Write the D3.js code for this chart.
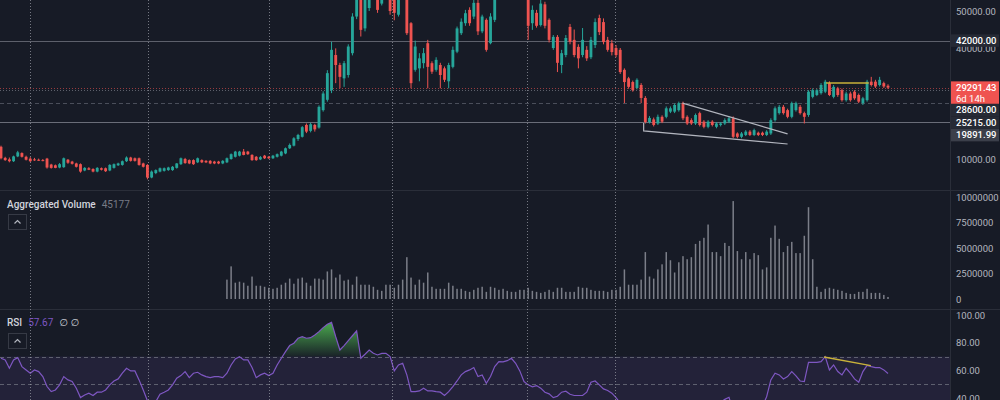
<!DOCTYPE html>
<html><head><meta charset="utf-8">
<script src="https://cdn.jsdelivr.net/npm/d3@7"></script>
<style>
html,body{margin:0;padding:0;background:#171b26;overflow:hidden}
svg{display:block}
text{font-family:Roboto,"Noto Sans","DejaVu Sans",sans-serif}
</style>
</head><body>
<svg id="c" width="1000" height="400"></svg>
<script>
// ---- DATA (prices in thousands of USD, volume in millions) ----
const open  = [13.3,10.3,9.9,9.4,10.7,11.6,10.6,10.1,9.9,9.8,9.7,10.1,8.5,8.3,7.7,7.8,9.8,9.3,8.8,8.6,6.9,7.5,7.3,6.6,7.5,7.5,6.9,7.6,8.3,8.4,9.4,10.4,10.2,10.2,8.8,8.4,5.0,6.2,6.6,6.8,7.0,7.0,7.6,8.6,10.0,9.7,9.7,9.1,9.7,9.5,9.5,9.3,9.3,8.8,9.1,10.0,10.6,10.9,12.0,12.0,11.1,10.6,9.9,10.9,10.6,10.2,10.6,10.9,11.5,12.9,13.6,15.4,16.0,19.2,17.6,19.2,18.5,23.2,26.0,28.6,38.1,35.4,31.8,32.7,38.6,48.5,56.0,45.3,50.8,57.0,60.0,52.0,60.0,58.0,55.0,49.0,54.0,62.0,46.7,34.1,34.5,35.9,41.3,35.9,34.1,35.4,34.5,31.0,34.9,39.0,44.0,46.7,50.3,48.5,52.2,44.5,47.6,41.3,47.6,55.0,58.0,62.0,60.0,65.0,63.0,59.0,57.0,46.7,49.5,46.2,51.8,47.6,40.0,43.0,35.4,38.1,45.7,42.2,40.3,38.1,39.5,37.5,40.8,48.1,47.0,42.2,41.3,40.0,39.5,34.1,31.8,30.8,29.2,30.0,26.5,20.0,20.7,19.6,21.4,21.4,22.8,22.8,23.2,25.1,21.4,20.5,19.6,22.4,20.1,18.7,20.1,18.7,19.2,19.6,20.1,21.0,16.9,16.0,16.5,17.4,16.5,17.1,17.1,16.5,16.9,20.5,22.4,24.1,23.2,21.4,23.2,24.1,22.4,21.9,26.8,27.3,27.8,28.2,30.5,26.8,29.1,28.6,25.9,27.7,28.2,27.3,25.1,25.9,30.9,30.9,30.0,30.5,29.8];
const high  = [13.6,10.6,10.4,10.9,12.2,11.8,10.9,10.5,10.3,10.1,10.0,10.3,8.7,8.5,8.9,10.4,10.0,9.5,9.0,8.8,7.8,7.8,7.5,7.8,7.7,7.7,8.6,8.8,9.0,9.6,10.7,10.6,10.4,10.4,9.0,8.6,6.9,7.2,7.7,7.7,7.9,8.1,8.9,10.4,10.3,9.9,9.9,10.4,9.9,9.7,9.7,9.5,9.5,9.7,10.4,11.5,12.2,12.2,12.7,12.2,11.3,10.8,10.8,11.1,10.8,11.1,11.5,12.2,13.1,14.2,15.9,16.8,18.9,19.6,19.8,19.5,24.5,28.3,34.0,41.7,39.9,36.0,36.5,41.0,49.4,57.0,58.0,57.0,60.0,62.0,62.0,63.0,62.0,59.0,57.0,58.0,66.0,64.0,47.0,42.0,38.6,40.0,42.2,36.4,37.5,36.0,35.0,36.0,40.4,45.8,48.0,50.3,51.0,53.5,53.0,49.0,48.0,49.4,57.0,61.0,65.0,66.0,68.0,69.0,66.0,64.0,58.0,51.5,50.3,53.0,52.5,48.0,43.5,43.5,39.5,43.5,46.5,45.0,41.0,45.4,40.5,43.0,48.0,49.0,48.0,43.0,42.2,40.8,40.0,34.5,32.2,31.2,31.8,30.5,27.0,21.6,21.2,22.0,21.8,24.2,24.2,25.0,25.5,25.5,21.8,21.0,22.3,22.8,20.5,20.5,20.5,20.0,20.0,21.0,21.6,21.5,17.2,17.3,17.8,17.8,18.2,17.4,17.4,17.8,21.0,24.2,24.6,24.6,23.6,25.5,25.5,24.6,22.8,28.6,29.1,29.0,30.5,31.4,31.0,30.0,29.5,29.0,28.2,28.2,28.6,27.7,26.8,31.4,32.2,31.4,32.2,30.9,30.2];
const low   = [9.9,9.5,9.1,9.2,10.5,10.4,9.6,9.2,9.5,9.5,9.4,7.4,7.4,7.5,7.5,7.6,8.7,8.5,7.7,6.3,6.7,7.0,6.4,6.4,6.9,6.5,6.7,7.4,8.1,8.2,9.2,9.3,9.3,8.2,7.7,4.5,4.8,5.9,6.4,6.6,6.8,6.8,7.4,8.4,8.7,8.6,8.4,8.9,8.9,8.9,8.6,8.6,8.6,8.6,8.9,9.8,10.4,10.7,11.0,11.1,9.5,9.5,9.7,10.0,10.0,10.0,10.4,10.7,11.3,12.7,13.4,14.9,15.8,17.0,17.2,17.4,18.2,22.8,25.5,27.8,30.5,29.1,29.5,32.0,38.0,47.8,43.1,44.5,50.0,55.0,49.5,51.5,53.5,49.0,47.5,48.5,53.5,43.5,29.1,33.6,31.0,34.5,29.1,33.0,33.6,29.1,30.8,29.1,34.5,38.6,43.5,46.0,46.0,47.8,43.5,44.0,39.0,41.0,47.0,54.0,56.0,57.0,58.0,61.0,57.0,55.0,42.2,44.9,45.5,45.8,45.3,41.5,39.5,33.5,33.2,37.5,41.0,37.5,34.5,37.5,36.5,37.0,40.0,43.5,41.0,39.0,38.0,37.5,33.0,25.1,29.0,28.2,28.8,25.1,19.6,19.6,18.8,19.2,19.7,21.0,22.4,22.4,22.8,20.5,19.2,19.2,19.2,18.8,18.3,18.3,18.8,18.3,18.8,19.2,19.7,15.6,15.6,15.6,16.2,16.2,16.2,16.2,16.2,16.2,16.5,20.1,22.0,22.0,21.0,21.0,22.8,22.0,19.6,21.4,26.4,27.0,27.4,27.8,27.0,26.4,26.8,25.5,25.5,25.5,26.0,25.1,24.6,25.5,29.6,29.2,29.6,29.2,28.9];
const close = [10.2,9.7,9.4,10.7,11.8,10.6,9.8,9.4,9.7,9.6,9.6,7.7,7.6,7.6,8.6,10.2,9.0,8.7,7.9,6.6,7.6,7.1,6.6,7.6,7.1,6.7,8.4,8.6,8.8,9.4,10.4,9.5,9.5,8.4,7.9,5.0,6.6,7.0,7.5,7.5,7.7,7.9,8.8,10.2,8.9,8.8,8.6,10.2,9.1,9.1,8.8,8.8,8.8,9.5,10.2,11.3,12.0,12.0,11.1,11.3,9.7,9.7,10.5,10.2,10.2,10.9,11.3,12.0,12.9,13.8,15.6,16.5,18.6,17.4,19.4,18.0,24.1,27.7,33.2,39.5,35.4,32.2,35.9,40.4,48.5,55.0,44.9,55.0,58.0,60.0,50.3,60.0,54.0,50.0,49.5,55.0,62.0,44.0,30.5,40.4,37.2,38.6,34.9,33.6,36.8,32.7,31.4,35.4,39.5,45.3,47.1,49.4,46.7,52.2,44.5,48.5,39.5,48.5,55.0,58.0,62.0,60.0,65.0,63.0,59.0,61.0,46.0,50.3,46.0,52.0,46.0,42.2,43.0,36.0,38.6,42.7,41.7,38.1,37.2,42.2,37.2,42.2,47.0,44.3,41.6,39.5,38.9,38.1,33.5,30.8,29.5,28.6,31.4,26.5,20.0,21.1,19.2,21.4,20.1,23.7,23.7,24.6,25.1,21.0,19.6,19.6,21.9,19.2,18.7,20.1,19.2,19.6,19.6,20.5,21.0,16.0,16.0,16.9,17.4,16.5,17.8,16.5,16.5,17.4,20.5,23.7,24.1,22.4,21.4,25.1,25.1,22.4,21.4,28.2,28.6,28.6,30.0,30.9,27.3,29.5,27.3,25.9,27.7,25.9,26.4,25.5,26.4,30.9,30.0,29.6,31.4,29.6,29.29];
const volumeStartIndex = 54;
const volume = [1.9,3.2,1.6,1.7,1.6,1.3,2.2,1.3,1.3,1.2,1.1,1.0,1.1,1.4,1.6,2.0,1.5,2.0,2.1,1.6,1.3,2.0,2.0,1.9,2.7,2.9,2.1,2.4,1.8,1.9,1.4,2.2,1.4,1.4,1.4,1.2,0.9,0.8,1.4,1.4,1.1,1.4,1.9,4.1,2.1,1.4,1.9,1.6,2.6,1.2,1.0,1.0,1.0,1.6,1.3,1.0,1.0,0.8,0.7,0.9,1.1,1.2,0.7,1.2,1.1,0.9,
  1.0,0.8,0.7,0.7,0.9,0.9,1.1,0.8,0.7,0.6,0.7,0.9,0.7,1.1,1.1,0.7,0.7,0.7,1.2,1.1,1.1,0.9,0.8,0.8,0.8,0.7,0.9,0.9,1.2,2.9,1.4,1.4,1.4,1.9,4.6,2.2,2.0,2.9,3.4,4.6,3.8,2.6,3.6,4.2,3.9,4.1,5.4,5.7,6.0,7.3,4.6,4.6,4.2,5.5,5.2,9.6,4.7,3.9,4.6,3.9,4.5,4.3,2.9,3.1,6.0,7.2,5.9,4.6,5.2,5.6,4.5,4.5,6.2,9.0,3.9,1.2,0.7,1.0,1.1,1.0,0.9,0.8,0.6,0.5,0.5,0.7,0.7,1.0,0.6,0.6,0.6,0.4,0.2];
const rsi = [68.7,67.5,61.5,67.5,69.2,62.7,60.3,57.9,60.3,59.1,55.5,48.3,44.6,45.8,49.5,55.5,53.1,51.9,47.1,40.3,42.2,43.5,41.8,44.2,44.2,45.8,49.5,52.3,53.8,57.9,61.5,59.6,59.6,53.1,45.8,38.0,36.0,37.4,42.7,44.2,45.8,49.5,54.3,56.2,59.1,54.7,57.9,58.6,56.7,55.5,54.7,55.5,55.5,54.7,57.9,63.9,68.2,69.9,67.5,67.5,62.0,54.7,56.7,57.9,56.2,57.9,63.9,68.7,73.5,77.9,79.6,83.2,84.3,83.2,83.6,85.6,88.0,90.9,93.3,94.7,84.3,74.7,77.9,81.5,85.0,88.5,68.7,71.6,74.7,72.3,71.1,72.3,72.3,69.9,59.6,63.9,65.1,56.7,44.6,44.6,45.1,47.1,45.1,45.1,44.6,44.2,41.8,44.6,48.3,52.3,56.7,59.1,60.3,62.0,55.5,56.7,50.7,55.5,62.7,66.3,66.1,67.0,68.7,65.1,59.6,51.9,49.5,48.1,49.0,47.1,44.2,43.0,40.3,41.3,44.2,44.9,42.7,41.8,41.8,41.8,44.2,51.4,52.3,49.5,46.6,45.4,43.5,40.3,36.2,30.0,27.0,25.0,28.0,22.0,15.0,18.0,17.0,22.0,21.0,27.0,28.0,30.0,32.0,26.0,23.0,23.0,28.0,25.0,24.0,27.0,26.0,30.0,37.0,39.0,40.5,30.0,29.0,31.0,33.0,32.0,34.0,33.0,34.0,41.0,53.1,57.9,56.7,53.8,55.5,59.1,56.0,52.3,51.9,65.8,65.8,65.8,66.3,69.9,60.3,63.9,59.1,56.7,61.5,57.9,53.8,51.4,59.1,63.5,62.7,62.0,62.0,60.3,57.67];
const priceTicks  = [10000,40000,50000];          // ticks visible on the price scale
const volumeTicks = [0,2500000,5000000,7500000,10000000];
const rsiTicks    = [40,60,80,100];
const rsiBands    = [70,50,30];
const gridIndex   = [6.9,35.2,64.1,93.5,125.6,146.7];   // time-division positions (candle index)
const lastPrice   = 29291.43;
const countdown   = "6d 14h";
const levelPrices = [42000,28600,25215,19891.99];
const volumeTitle = "Aggregated Volume", volumeLast = "45177";
const rsiTitle = "RSI", rsiLast = "57.67", rsiNa = "∅ ∅";
// drawings, in [candle index, value]
const wedgeUpper   = [[162.9,25100],[188.0,16800]];
const wedgeLower   = [[153.6,19700],[153.6,17600],[188.0,14050]];
const resistance   = [[197.2,30550],[207.4,30550]];
const rsiDivergence= [[196.7,69.6],[207.9,63.4]];

// ---- STYLE / LAYOUT ----
const BG="#171b26", UP="#26a69a", DOWN="#ef5350", AX="#b2b5be", SEP="#2a2e39";
const axisX=950;
const svg=d3.select("#c");
svg.append("rect").attr("width",1000).attr("height",400).attr("fill",BG);
const defs=svg.append("defs");
function clip(id,y,h){defs.append("clipPath").attr("id",id).append("rect").attr("x",0).attr("y",y).attr("width",axisX).attr("height",h);}
clip("cMain",0,190); clip("cVol",191,117); clip("cRsi",310,90);

const n=close.length;
const x=d3.scaleLinear().domain([0,n-1]).range([1,888]);
const yP=d3.scaleLinear().domain([10000,50000]).range([159,11]);
const yV=d3.scaleLinear().domain([0,1e7]).range([299,197]);
const yR=d3.scaleLinear().domain([40,100]).range([398,315]);

// pane separators & axis border
svg.append("line").attr("x1",0).attr("x2",1000).attr("y1",190.5).attr("y2",190.5).attr("stroke",SEP);
svg.append("line").attr("x1",0).attr("x2",1000).attr("y1",309.5).attr("y2",309.5).attr("stroke",SEP);
svg.append("line").attr("x1",axisX+0.5).attr("x2",axisX+0.5).attr("y1",0).attr("y2",400).attr("stroke",SEP);

// RSI background band
const gR=svg.append("g").attr("clip-path","url(#cRsi)");
gR.append("rect").attr("x",0).attr("width",axisX).attr("y",yR(70)).attr("height",yR(30)-yR(70)).attr("fill","rgba(126,87,194,0.12)");
gR.selectAll("line.band").data(rsiBands).join("line").attr("class","band")
  .attr("x1",0).attr("x2",axisX).attr("y1",d=>Math.round(yR(d))+0.5).attr("y2",d=>Math.round(yR(d))+0.5)
  .attr("stroke","#787b86").attr("stroke-opacity",0.7).attr("stroke-dasharray","4 3");

// vertical time grid
svg.append("g").selectAll("line").data(gridIndex).join("line")
  .attr("x1",d=>Math.round(x(d))+0.5).attr("x2",d=>Math.round(x(d))+0.5).attr("y1",0).attr("y2",400)
  .attr("stroke","#9598a1").attr("stroke-opacity",0.75).attr("stroke-dasharray","1 2");

// price levels
const gM=svg.append("g").attr("clip-path","url(#cMain)");
const levelStyle=[{c:"#5d606b",d:null},{c:"#5d606b",d:"1 2"},{c:"#4a4e5a",d:"4 3"},{c:"#6a6d78",d:null}];
levelPrices.forEach((p,k)=>{
  const l=gM.append("line").attr("x1",0).attr("x2",axisX).attr("y1",Math.round(yP(p))+0.5).attr("y2",Math.round(yP(p))+0.5)
    .attr("stroke",levelStyle[k].c);
  if(levelStyle[k].d) l.attr("stroke-dasharray",levelStyle[k].d);
});
gM.append("line").attr("x1",0).attr("x2",axisX).attr("y1",Math.round(yP(lastPrice))+0.5).attr("y2",Math.round(yP(lastPrice))+0.5)
  .attr("stroke",DOWN).attr("stroke-opacity",0.6).attr("stroke-dasharray","1 2");

// candles
const idx=d3.range(n);
const bw=(x(1)-x(0))*0.68;
const col=i=>close[i]>=open[i]?UP:DOWN;
gM.selectAll("line.wick").data(idx).join("line").attr("class","wick")
  .attr("x1",i=>x(i)).attr("x2",i=>x(i)).attr("y1",i=>yP(high[i]*1000)).attr("y2",i=>yP(low[i]*1000))
  .attr("stroke",col).attr("stroke-width",1);
gM.selectAll("rect.body").data(idx).join("rect").attr("class","body")
  .attr("x",i=>x(i)-bw/2).attr("width",bw)
  .attr("y",i=>yP(Math.max(open[i],close[i])*1000))
  .attr("height",i=>Math.max(1,Math.abs(yP(open[i]*1000)-yP(close[i]*1000))))
  .attr("fill",col);

// drawings on price pane
const dl=d3.line().x(d=>x(d[0])).y(d=>yP(d[1]));
gM.append("path").attr("d",dl(wedgeUpper)).attr("fill","none").attr("stroke","#b2b5be").attr("stroke-width",1.2);
gM.append("path").attr("d",dl(wedgeLower)).attr("fill","none").attr("stroke","#b2b5be").attr("stroke-width",1.2);
gM.append("path").attr("d",dl(resistance)).attr("fill","none").attr("stroke","#c9b23a").attr("stroke-width",1.5);

// volume
const gV=svg.append("g").attr("clip-path","url(#cVol)");
gV.selectAll("rect").data(volume).join("rect")
  .attr("x",(v,j)=>x(volumeStartIndex+j)-0.75).attr("width",1.5)
  .attr("y",v=>yV(v*1e6)).attr("height",v=>yV(0)-yV(v*1e6))
  .attr("fill","#7b7e88");

// RSI overbought fill + line
const grad=defs.append("linearGradient").attr("id","ob").attr("gradientUnits","userSpaceOnUse")
  .attr("x1",0).attr("x2",0).attr("y1",yR(96)).attr("y2",yR(70));
grad.append("stop").attr("offset",0).attr("stop-color","#4caf50").attr("stop-opacity",1);
grad.append("stop").attr("offset",1).attr("stop-color","#4caf50").attr("stop-opacity",0.05);
gR.append("path").datum(idx).attr("fill","url(#ob)")
  .attr("d",d3.area().x(i=>x(i)).y0(yR(70)).y1(i=>yR(Math.max(70,rsi[i]))));
gR.append("path").datum(idx).attr("fill","none").attr("stroke","#7e57c2").attr("stroke-width",1.2)
  .attr("d",d3.line().x(i=>x(i)).y(i=>yR(rsi[i])));
const rl=d3.line().x(d=>x(d[0])).y(d=>yR(d[1]));
gR.append("path").attr("d",rl(rsiDivergence)).attr("fill","none").attr("stroke","#c9b23a").attr("stroke-width",1.5);

// axes
function axis(scale,ticks,fmt){
  const g=svg.append("g").attr("transform",`translate(${axisX+1},0)`)
    .call(d3.axisRight(scale).tickValues(ticks).tickSize(0).tickPadding(5).tickFormat(fmt));
  g.select(".domain").remove();
  g.selectAll("text").attr("fill",AX).style("font-size","9.5px").style("font-family","Roboto,sans-serif");
  return g;
}
axis(yP,priceTicks,d=>d.toFixed(2));
axis(yV,volumeTicks,d=>String(d));
axis(yR,rsiTicks,d=>d.toFixed(2));

// price-axis labels with collision stacking
const labels=[
  {p:levelPrices[0],lines:[levelPrices[0].toFixed(2)],fill:"#262a35"},
  {p:lastPrice,lines:[lastPrice.toFixed(2),countdown],fill:"#ef5350"},
  {p:levelPrices[1],lines:[levelPrices[1].toFixed(2)],fill:"#262a35"},
  {p:levelPrices[2],lines:[levelPrices[2].toFixed(2)],fill:"#262a35"},
  {p:levelPrices[3],lines:[levelPrices[3].toFixed(2)],fill:"#3b3f4a"}
];
const LH=12.5; let prevBottom=-1e9;
labels.forEach(L=>{
  let top=yP(L.p)-LH/2;
  if(top<prevBottom) top=prevBottom;
  const h=L.lines.length===1?LH:LH+10;
  prevBottom=top+h;
  svg.append("rect").attr("x",axisX+1).attr("y",top).attr("width",48).attr("height",h).attr("fill",L.fill);
  L.lines.forEach((t,k)=>{
    svg.append("text").attr("x",axisX+6).attr("y",top+LH/2+k*11).attr("dy","0.35em")
      .attr("fill","#ffffff").style("font-size","9.5px").style("font-weight",k===0?"500":"400").text(t);
  });
});

// pane legends
function legend(y,parts){
  const t=svg.append("text").attr("x",7).attr("y",y).style("font-size","10px");
  parts.forEach(p=>t.append("tspan").attr("fill",p.c).attr("dx",p.dx||0).style("font-weight",p.w||"400").text(p.t));
}
legend(208,[{t:volumeTitle,c:"#d1d4dc",w:"500"},{t:volumeLast,c:"#787b86",dx:6}]);
legend(326,[{t:rsiTitle,c:"#d1d4dc",w:"500"},{t:rsiLast,c:"#7e57c2",dx:6},{t:rsiNa,c:"#d1d4dc",dx:6}]);
function btn(y){
  svg.append("rect").attr("x",8.5).attr("y",y+0.5).attr("width",18).attr("height",15).attr("fill","none").attr("stroke","#363a45");
  svg.append("path").attr("d",`M14.5,${y+9.5} L17.5,${y+6.5} L20.5,${y+9.5}`).attr("fill","none").attr("stroke","#b2b5be").attr("stroke-width",1.2);
}
btn(214); btn(333);
</script>
</body></html>
